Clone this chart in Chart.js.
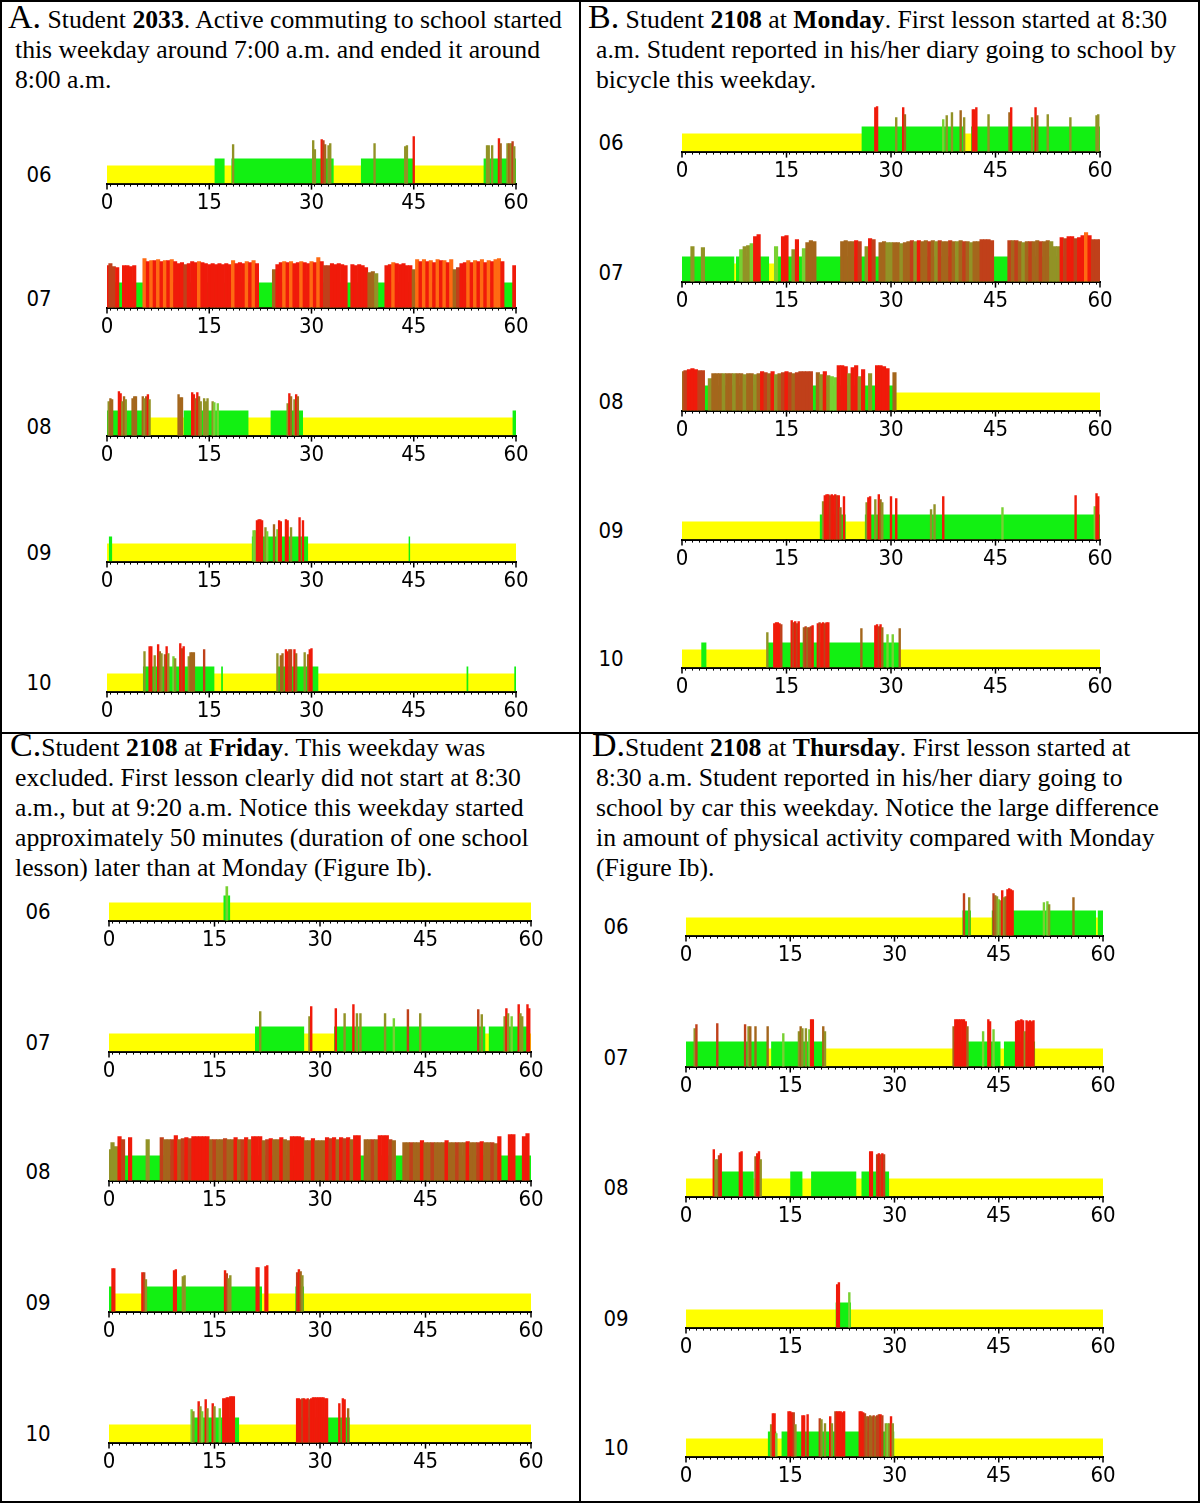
<!DOCTYPE html>
<html>
<head>
<meta charset="utf-8">
<script src="https://cdn.jsdelivr.net/npm/chart.js@4.4.0/dist/chart.umd.min.js"></script>
<style>
  body { margin: 0; background: #fff; }
  #page { position: relative; width: 1200px; height: 1503px; overflow: hidden; }
  .frame { position: absolute; left: 0; top: 0; width: 1196px; height: 1499px; border: 2px solid #000; }
  .vline { position: absolute; left: 579px; top: 0; width: 2px; height: 1503px; background: #000; }
  .hline { position: absolute; left: 0; top: 732px; width: 1200px; height: 2px; background: #000; }
  .cap { position: absolute; font: 25.7px/30px 'Liberation Serif', 'Times New Roman', serif; white-space: nowrap; color: #000; }
  .big { font-size: 34px; }
  .hour { position: absolute; width: 40px; text-align: center; font: 22px 'Liberation Sans Narrow', 'DejaVu Sans Condensed', sans-serif; color: #000; }
  .strip { position: absolute; }
</style>
</head>
<body>
<div id="page">
  <div class="frame"></div>
  <div class="vline"></div>
  <div class="hline"></div>
  <div class="cap" style="left:15px; top:2px;"><span class="big" style="margin-left:-7px;">A.</span> Student <b>2033</b>. Active commuting to school started<br>this weekday around 7:00 a.m. and ended it around<br>8:00 a.m.</div>
  <div class="cap" style="left:596px; top:2px;"><span class="big" style="margin-left:-8px;">B.</span> Student <b>2108</b> at <b>Monday</b>. First lesson started at 8:30<br>a.m. Student reported in his/her diary going to school by<br>bicycle this weekday.</div>
  <div class="cap" style="left:15px; top:730px;"><span class="big" style="margin-left:-5px;">C.</span>Student <b>2108</b> at <b>Friday</b>. This weekday was<br>excluded. First lesson clearly did not start at 8:30<br>a.m., but at 9:20 a.m. Notice this weekday started<br>approximately 50 minutes (duration of one school<br>lesson) later than at Monday (Figure Ib).</div>
  <div class="cap" style="left:596px; top:730px;"><span class="big" style="margin-left:-4px;">D.</span>Student <b>2108</b> at <b>Thursday</b>. First lesson started at<br>8:30 a.m. Student reported in his/her diary going to<br>school by car this weekday. Notice the large difference<br>in amount of physical activity compared with Monday<br>(Figure Ib).</div>
</div>
<script>
// hour rows and minute axis labels
const hours = ['06', '07', '08', '09', '10'];
const minuteTicks = [0, 15, 30, 45, 60];

// bar levels: yellow = recorded, green = active
const yellowLevel = 18;
const greenLevel = 25;
// spike colour codes: 0 light green, 1 olive, 2 olive-brown, 3 brown-red, 4 red, 5 orange
const spikeColours = ['#78d032', '#929226', '#a4661c', '#c0401a', '#f01a0a', '#ff6a12'];

// ---- A. Student 2033 ----
const a06Green = [[15.75, 17.25], [18.25, 33.25], [37.25, 45], [55.25, 60]];
const a06Spikes = [[18.5,39,1],[30.25,43,1],[30.5,34,1],[31.5,44,4],[31.75,43,3],[32,39,2],[32.5,38,1],[32.75,40,1],[39.25,40,1],[43.75,37,1],[44,38,1],[45,47,4],[55.75,38,1],[56,38,1],[56.5,38,1],[57.5,45,4],[57.75,40,2],[58.75,40,1],[59,40,2],[59.25,40,1],[59.5,42,3],[59.75,37,1]];
const a07Green = [[0, 60]];
const a07Spikes = [[0,42,4],[0.5,44,3],[1,41,3],[1.5,40,4],[2.5,42,4],[3,42,4],[3.5,41,4],[4,42,4],[5.5,49,5],[6,46,4],[6.5,47,5],[7,47,4],[7.5,48,5],[8,46,4],[8.5,47,5],[9,47,4],[9.5,48,5],[10,46,4],[10.5,44,4],[11,45,4],[11.5,43,3],[12,44,4],[12.5,46,4],[13,45,4],[13.5,46,5],[14,45,4],[14.5,44,4],[15,43,4],[15.5,44,4],[16,43,4],[16.5,44,4],[17,43,4],[17.5,44,4],[18,43,4],[18.5,47,5],[19,44,4],[19.5,45,4],[20,44,4],[20.5,46,5],[21,45,4],[21.5,47,5],[22,44,4],[24.5,38,2],[25,43,4],[25.5,45,4],[26,46,5],[26.5,45,4],[27,46,5],[27.5,44,4],[28,45,4],[28.5,46,5],[29,45,4],[29.5,44,4],[30,46,5],[30.5,45,4],[31,50,5],[31.5,46,4],[32,42,3],[32.5,42,3],[33,44,4],[33.5,43,4],[34,44,4],[34.5,43,4],[35,42,4],[36,43,4],[36.5,42,4],[37,43,4],[37.5,42,4],[38,40,4],[38.5,35,2],[39,36,2],[39.5,34,1],[41,42,4],[41.5,43,4],[42,45,5],[42.5,44,4],[43,43,4],[43.5,44,4],[44,42,4],[44.5,42,4],[45,38,2],[45.5,48,5],[46,46,4],[46.5,48,5],[47,46,4],[47.5,47,5],[48,45,4],[48.5,48,5],[49,47,4],[49.5,47,5],[50,45,4],[50.5,48,5],[51,38,2],[51.5,40,3],[52,44,4],[52.5,45,4],[53,47,5],[53.5,45,4],[54,47,5],[54.5,46,4],[55,48,5],[55.5,45,4],[56,47,5],[56.5,46,4],[57,48,5],[57.5,49,5],[58,46,4],[59.75,42,4]];
const a08Green = [[0, 6.25], [11.25, 20.75], [24, 28.75], [59.5, 60]];
const a08Spikes = [[0.25,34,1],[0.5,37,2],[0.75,36,2],[1.75,44,4],[2,42,4],[2.25,34,1],[2.5,39,2],[2.75,36,1],[3.75,37,2],[4,39,2],[4.25,39,2],[5.25,39,2],[5.5,37,1],[5.75,39,2],[6,41,4],[6.25,36,1],[10.5,41,2],[10.75,38,2],[11,38,2],[12.5,43,4],[12.75,41,4],[13,37,2],[13.25,43,4],[13.5,39,2],[13.75,34,1],[14.25,37,1],[14.5,34,1],[14.75,37,1],[15.5,34,1],[15.75,33,0],[16.25,32,0],[26.5,32,1],[26.75,42,4],[27,39,2],[27.5,36,1],[27.75,41,4],[28,39,2]];
const a09Green = [[0.25, 0.75], [21.25, 29.5], [44.25, 44.5]];
const a09Spikes = [[21.5,31,0],[21.75,31,0],[22,41,4],[22.25,42,4],[22.5,42,4],[22.75,41,4],[23.25,34,1],[23.5,30,0],[24.5,37,2],[25,32,0],[25.25,41,4],[25.5,40,4],[26.25,42,4],[26.5,41,4],[27,34,1],[28.25,44,4],[28.75,41,4]];
const a10Green = [[5.25, 15.75], [16.75, 17], [25, 31], [52.75, 53], [59.75, 60]];
const a10Spikes = [[5.5,40,1],[6.25,45,4],[6.5,45,4],[7,36,1],[7.5,47,4],[7.75,40,2],[8,38,1],[8.5,37,2],[8.75,45,4],[9,38,1],[9.75,35,0],[10,33,1],[10.75,48,4],[11,43,3],[11.25,45,4],[12,35,1],[12.25,39,2],[12.5,39,2],[12.75,39,2],[14.25,42,3],[25,38,1],[25.5,36,2],[25.75,38,2],[26.25,42,4],[26.5,40,4],[26.75,42,3],[27,42,3],[27.5,42,4],[27.75,38,2],[29,39,1],[29.5,37,2],[29.75,42,4],[30,43,4]];

// ---- B. Student 2108, Monday ----
const b06Green = [[25.75, 40.5], [41.5, 60]];
const b06Spikes = [[27.75,44,4],[28,45,4],[30.75,34,1],[31.75,44,4],[32,37,2],[37.5,32,0],[38,36,1],[38.75,39,1],[40,41,2],[40.5,34,1],[41.75,42,4],[42,42,4],[42.25,44,4],[44,37,1],[47,39,2],[47.25,44,4],[50.25,34,1],[50.75,44,4],[51,36,2],[52.5,37,1],[55.75,34,1],[59.5,36,1],[59.75,37,1]];
const b07Green = [[0, 7.5], [7.75, 12.5], [13.5, 60]];
const b07Spikes = [[1.5,35,1],[3,34,1],[8.5,32,0],[9,35,1],[9.5,36,1],[10,38,0],[10.5,45,4],[11,47,4],[13.5,35,0],[14.5,45,4],[15,46,4],[16,32,1],[16.5,42,4],[17.5,33,0],[18,39,2],[18.5,41,2],[19,40,2],[23,40,2],[23.5,41,2],[24,40,2],[24.5,40,2],[25,41,4],[25.5,40,3],[26.5,35,1],[27,43,4],[27.5,42,3],[28.5,39,2],[29,40,2],[29.5,39,1],[30,39,1],[30.5,39,2],[31,39,2],[31.5,38,1],[32,39,2],[32.5,40,2],[33,41,3],[33.5,40,1],[34,41,4],[34.5,40,2],[35,41,2],[35.5,40,3],[36,41,2],[36.5,40,1],[37,41,3],[37.5,40,2],[38,40,2],[38.5,41,3],[39,40,2],[39.5,40,1],[40,41,2],[40.5,40,3],[41,40,2],[41.5,39,1],[42,40,2],[42.5,40,2],[43,42,3],[43.5,42,3],[44,42,3],[44.5,41,3],[47,41,3],[47.5,41,2],[48,41,3],[48.5,40,2],[49,39,1],[49.5,40,2],[50,40,3],[50.5,40,2],[51,41,2],[51.5,40,3],[52,40,2],[52.5,41,2],[53,40,1],[53.5,35,1],[54,35,1],[54.5,44,4],[55,43,3],[55.5,45,4],[56,45,4],[56.5,43,3],[57,44,4],[57.5,46,4],[58,49,5],[58.5,46,4],[59,42,3],[59.5,42,3],[60,42,3]];
const b08Green = [[0, 30.75]];
const b08Spikes = [[0,39,2],[0.5,40,3],[1,41,4],[1.5,42,4],[2,41,4],[2.5,40,3],[3,40,3],[4,32,1],[4.5,37,2],[5,37,2],[5.5,37,2],[6,37,1],[6.5,37,2],[7,37,2],[7.5,37,1],[8,37,2],[8.5,37,2],[9,36,1],[9.5,37,2],[10,37,2],[10.5,36,1],[11,37,2],[11.5,39,4],[12,38,3],[12.5,37,2],[13,39,4],[13.5,36,1],[14,37,2],[14.5,38,3],[15,39,4],[15.5,38,3],[16,37,2],[16.5,38,3],[17,39,3],[17.5,39,3],[18,39,3],[18.5,39,3],[19.5,38,2],[20,36,1],[20.5,39,4],[21,35,1],[21.5,34,0],[22,33,0],[22.5,45,4],[23,45,4],[23.5,44,4],[24,37,1],[24.5,43,4],[25,45,4],[25.5,34,1],[26,41,4],[27,37,1],[28,45,4],[28.5,45,4],[29,44,4],[29.5,42,4],[30.5,38,2]];
const b09Green = [[19.75, 23.5], [26.25, 60]];
const b09Spikes = [[20.25,38,1],[20.5,44,4],[20.75,45,4],[21,45,4],[21.25,44,3],[21.5,45,4],[21.75,44,4],[22,45,4],[22.25,44,3],[22.5,44,4],[22.75,32,2],[23.25,43,4],[26.5,37,1],[26.75,42,4],[27,43,4],[27.75,40,1],[28.25,45,4],[28.5,40,2],[28.75,37,1],[30,43,4],[30.75,41,4],[35.75,30,1],[36.25,35,1],[37.5,43,4],[46,32,0],[56.5,44,4],[59.25,33,0],[59.5,46,4],[59.75,43,4]];
const b10Green = [[2.75, 3.5], [12.25, 31.25]];
const b10Spikes = [[12.25,35,1],[13.25,44,4],[13.5,45,4],[13.75,45,4],[14,44,4],[14.25,43,3],[15.75,47,4],[16,45,3],[16.25,46,4],[16.5,44,3],[16.75,46,4],[17.5,40,2],[17.75,41,3],[18,40,2],[18.25,40,3],[18.5,41,3],[18.75,42,4],[19.5,44,4],[19.75,45,3],[20,44,4],[20.25,45,4],[20.5,44,3],[20.75,45,4],[21,45,4],[25.75,39,2],[27.75,42,4],[28,43,4],[28.25,41,3],[28.5,43,4],[28.75,40,2],[29.5,33,0],[30.25,33,0],[31.25,39,2]];

// ---- C. Student 2108, Friday ----
const c06Green = [[16.25, 17.25]];
const c06Spikes = [[16.75,34,0]];
const c07Green = [[20.75, 27.75], [32, 53.5], [54, 59.5]];
const c07Spikes = [[21.5,40,1],[28.5,35,1],[28.75,45,4],[32.25,43,4],[33.5,38,1],[34.75,47,4],[35.25,38,1],[35.75,38,1],[39.25,38,1],[40.5,33,0],[42.5,42,3],[44.25,38,1],[52.5,42,3],[53,37,1],[56.25,35,1],[56.5,43,4],[56.75,38,1],[57.25,35,0],[58.25,47,4],[58.5,38,1],[58.75,35,1],[59.5,47,4],[59.75,43,4]];
const c08Green = [[0, 60]];
const c08Spikes = [[0,31,1],[0.5,38,1],[1,34,1],[1.5,44,4],[2,41,3],[3,43,4],[5.5,41,1],[7.5,43,3],[8,41,2],[8.5,41,2],[9,41,3],[9.5,45,4],[10,41,2],[10.5,42,3],[11,43,4],[11.5,42,3],[12,44,4],[12.5,44,4],[13,44,4],[13.5,44,4],[14,44,4],[14.5,41,2],[15,41,3],[15.5,41,2],[16,41,2],[16.5,42,3],[17,41,2],[17.5,41,2],[18,43,4],[18.5,41,2],[19,41,3],[19.5,43,4],[20,41,2],[20.5,44,4],[21,44,4],[21.5,44,4],[22,40,2],[22.5,41,3],[23,42,4],[23.5,41,2],[24,41,2],[24.5,43,4],[25,41,2],[25.5,40,2],[26,44,4],[26.5,44,4],[27,44,4],[27.5,43,4],[28,40,2],[28.5,40,2],[29,42,4],[29.5,40,2],[30,40,2],[30.5,40,2],[31,43,4],[31.5,42,3],[32,43,4],[32.5,41,2],[33,43,4],[33.5,42,3],[34,43,4],[34.5,41,2],[35,45,4],[35.5,45,4],[36.5,41,2],[37,41,2],[37.5,41,3],[38,41,2],[38.5,45,4],[39,45,4],[39.5,45,4],[40,41,3],[40.5,40,2],[42,38,2],[42.5,38,2],[43,38,3],[43.5,38,2],[44,38,2],[44.5,40,4],[45,38,2],[45.5,38,2],[46,38,3],[46.5,38,2],[47,38,2],[47.5,38,2],[48,40,4],[48.5,38,2],[49,38,2],[49.5,38,3],[50,38,2],[50.5,38,2],[51,39,4],[51.5,38,2],[52,38,2],[52.5,38,3],[53,39,4],[53.5,38,2],[54,38,2],[54.5,38,3],[55,37,2],[55.5,44,4],[57,46,4],[57.5,46,4],[59,44,4],[59.5,47,4]];
const c09Green = [[0, 0.75], [5, 21.75], [26.5, 27.75]];
const c09Spikes = [[0.5,43,4],[0.75,43,4],[4.75,39,4],[5,39,3],[5.25,32,1],[9.25,41,4],[9.5,42,4],[10.5,35,1],[10.75,36,1],[16.5,41,4],[16.75,38,3],[17,33,1],[17.25,36,1],[21,44,4],[21.25,44,4],[22.25,45,4],[22.5,46,4],[26.75,39,3],[27,42,4],[27.25,40,2],[27.5,36,1]];
const c10Green = [[11.75, 18.5], [26.75, 34.25]];
const c10Spikes = [[11.75,33,0],[12,31,1],[12.75,41,4],[13,36,1],[13.25,31,0],[13.75,43,4],[14,34,1],[14.75,39,4],[15,36,1],[15.75,34,0],[16.25,44,4],[16.5,44,4],[16.75,45,4],[17,45,4],[17.25,46,4],[17.5,46,4],[17.75,46,4],[26.75,44,4],[27,44,4],[27.25,43,4],[27.5,44,3],[27.75,44,4],[28,43,4],[28.25,44,4],[28.5,43,3],[28.75,44,4],[29,45,4],[29.25,45,4],[29.5,45,4],[29.75,45,4],[30,45,4],[30.25,45,4],[30.5,45,4],[30.75,44,4],[31,44,4],[32.75,39,4],[33.25,44,4],[33.5,43,4],[34,34,2]];

// ---- D. Student 2108, Thursday ----
const d06Green = [[39.75, 41], [44, 59], [59.25, 60]];
const d06Spikes = [[40,42,3],[40.75,38,1],[44.25,42,3],[44.5,40,2],[44.75,39,1],[45,36,0],[45.25,35,1],[45.5,45,4],[45.75,38,1],[46,39,2],[46.25,46,4],[46.5,47,4],[46.75,46,4],[47,45,4],[51.5,33,0],[52,34,0],[52.25,31,1],[55.75,38,2]];
const d07Green = [[0, 11.75], [12.25, 20], [38.5, 45.25], [45.75, 50.25]];
const d07Spikes = [[1.25,38,1],[1.5,42,3],[4.5,43,3],[8.5,42,3],[9,40,1],[9.25,40,2],[10,40,2],[11.75,40,2],[14,33,0],[16.25,35,1],[16.5,40,2],[16.75,38,1],[17.25,38,1],[17.75,37,0],[18,47,4],[18.25,47,4],[19.75,40,2],[20,35,1],[38.5,40,2],[38.75,47,4],[39,47,4],[39.25,47,4],[39.5,47,4],[39.75,47,4],[40,47,4],[40.25,45,4],[40.5,40,2],[42.75,35,0],[43.5,47,4],[43.75,45,4],[44.25,37,0],[47.5,45,4],[47.75,46,4],[48,46,4],[48.25,47,4],[48.5,46,4],[48.75,35,1],[49,46,4],[49.25,45,4],[49.5,46,4],[49.75,45,4],[50,46,4]];
const d08Green = [[4.75, 9.75], [15, 16.75], [18, 24.5], [25.25, 29.25]];
const d08Spikes = [[4,47,4],[4.25,37,1],[4.5,37,1],[4.75,41,3],[5,43,4],[7.75,44,4],[8,45,4],[10,40,2],[10.25,43,4],[10.5,45,4],[10.75,37,1],[26.5,45,4],[26.75,45,4],[27.5,42,3],[27.75,43,4],[28,42,3],[28.25,43,4],[28.5,42,3]];
const d09Green = [[21.5, 23.75]];
const d09Spikes = [[21.75,43,4],[22,45,4],[23.5,35,0]];
const d10Green = [[11.75, 13], [13.75, 30]];
const d10Spikes = [[12.25,32,1],[12.5,43,4],[12.75,43,4],[13,23,0],[14.75,45,4],[15,45,4],[15.25,44,4],[15.5,44,3],[15.75,32,1],[16.75,41,4],[17,41,4],[17.5,42,4],[19.25,38,3],[19.5,37,1],[20,33,1],[20.75,40,4],[21,33,1],[21.5,45,3],[21.75,45,4],[22,45,4],[22.25,45,4],[22.5,44,4],[22.75,45,4],[25,45,4],[25.25,45,4],[25.5,44,4],[25.75,43,3],[26,40,2],[26.25,40,3],[26.5,41,2],[26.75,40,2],[27,41,3],[27.25,40,2],[27.5,41,3],[27.75,42,3],[28,42,4],[28.25,41,3],[28.75,33,1],[29,33,0],[29.25,33,1],[29.5,40,4],[29.75,33,1]];

// strips sampled every half minute get bars as wide as the gap
const denseStrips = [a07Spikes, b07Spikes, b08Spikes, c08Spikes];

// where each panel sits on the page
const panels = [
  { x0: 107, x60: 516, labelX: 39, axes: [184, 308, 436, 562, 692],
    strips: [[a06Green, a06Spikes], [a07Green, a07Spikes], [a08Green, a08Spikes], [a09Green, a09Spikes], [a10Green, a10Spikes]] },
  { x0: 682, x60: 1100, labelX: 611, axes: [152, 282, 411, 540, 668],
    strips: [[b06Green, b06Spikes], [b07Green, b07Spikes], [b08Green, b08Spikes], [b09Green, b09Spikes], [b10Green, b10Spikes]] },
  { x0: 109, x60: 531, labelX: 38, axes: [921, 1052, 1181, 1312, 1443],
    strips: [[c06Green, c06Spikes], [c07Green, c07Spikes], [c08Green, c08Spikes], [c09Green, c09Spikes], [c10Green, c10Spikes]] },
  { x0: 686, x60: 1103, labelX: 616, axes: [936, 1067, 1197, 1328, 1457],
    strips: [[d06Green, d06Spikes], [d07Green, d07Spikes], [d08Green, d08Spikes], [d09Green, d09Spikes], [d10Green, d10Spikes]] }
];

const tickFont = "'Liberation Sans Narrow', 'DejaVu Sans Condensed', sans-serif";
const page = document.getElementById('page');

// longer tick marks at the labelled minutes
const majorTicks = {
  id: 'majorTicks',
  afterDraw(chart) {
    const sx = chart.scales.x, ctx = chart.ctx, b = chart.chartArea.bottom;
    ctx.save();
    ctx.strokeStyle = '#000';
    ctx.lineWidth = 1.5;
    minuteTicks.forEach((v) => {
      const px = sx.getPixelForValue(v);
      ctx.beginPath();
      ctx.moveTo(px, b);
      ctx.lineTo(px, b + 6);
      ctx.stroke();
    });
    ctx.restore();
  }
};

function makeStrip(panel, i) {
  const green = panel.strips[i][0];
  const spikes = panel.strips[i][1];
  const span = panel.x60 - panel.x0;
  const axisY = panel.axes[i];

  const wrap = document.createElement('div');
  wrap.className = 'strip';
  const cv = document.createElement('canvas');
  cv.width = span + 40;
  cv.height = 100;
  wrap.appendChild(cv);
  page.appendChild(wrap);

  // step outline for the green segments (flat at the left point's value)
  const greenPts = [];
  green.forEach((s) => {
    greenPts.push({ x: s[0], y: greenLevel }, { x: s[1], y: 0 });
  });

  const chart = new Chart(cv, {
    type: 'bar',
    data: {
      datasets: [
        {
          type: 'bar',
          data: spikes.map((s) => ({ x: s[0], y: s[1] })),
          backgroundColor: spikes.map((s) => spikeColours[s[2]]),
          barPercentage: 1,
          categoryPercentage: 1,
          maxBarThickness: denseStrips.includes(spikes) ? undefined : 2,
        },
        {
          type: 'line',
          data: greenPts,
          stepped: 'before',
          fill: 'origin',
          backgroundColor: '#12f012',
          borderWidth: 0,
          pointRadius: 0,
        },
        {
          type: 'line',
          data: [{ x: 0, y: yellowLevel }, { x: 60, y: yellowLevel }],
          fill: 'origin',
          backgroundColor: '#ffff00',
          borderWidth: 0,
          pointRadius: 0,
        },
      ],
    },
    options: {
      responsive: false,
      animation: false,
      layout: { padding: { left: 20, right: 20, top: 2, bottom: 0 } },
      plugins: { legend: { display: false }, tooltip: { enabled: false } },
      scales: {
        x: {
          type: 'linear',
          min: 0,
          max: 60,
          offset: false,
          grid: { drawOnChartArea: false, drawTicks: true, tickLength: 3, color: '#000', lineWidth: 1 },
          border: { display: true, color: '#000', width: 2 },
          ticks: {
            stepSize: 1,
            autoSkip: false,
            maxRotation: 0,
            padding: 3,
            color: '#000',
            font: { family: tickFont, size: 22 },
            callback: (v) => (minuteTicks.includes(v) ? String(v) : ''),
          },
        },
        y: { display: false, min: 0, max: 50 },
      },
    },
    plugins: [majorTicks],
  });

  // one y unit = one pixel
  chart.options.scales.y.max = chart.chartArea.bottom - chart.chartArea.top;
  chart.update('none');

  wrap.style.left = (panel.x0 - chart.chartArea.left) + 'px';
  wrap.style.top = (axisY - chart.chartArea.bottom) + 'px';

  const lab = document.createElement('div');
  lab.className = 'hour';
  lab.textContent = hours[i];
  lab.style.left = (panel.labelX - 20) + 'px';
  lab.style.top = (axisY - 22) + 'px';
  page.appendChild(lab);
}

panels.forEach((p) => {
  for (let i = 0; i < hours.length; i++) makeStrip(p, i);
});
</script>
</body>
</html>
